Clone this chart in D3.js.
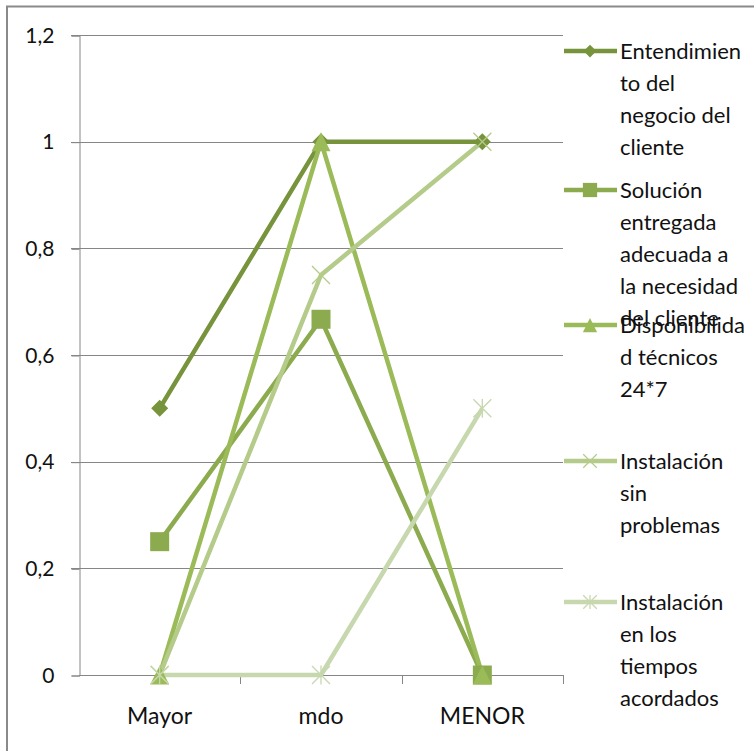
<!DOCTYPE html>
<html>
<head>
<meta charset="utf-8">
<script src="https://cdn.jsdelivr.net/npm/d3@7"></script>
<style>
  html, body { margin: 0; padding: 0; background: #fff; }
  svg { display: block; }
  text { font-family: Lato, "Open Sans", sans-serif; fill: #111; }
</style>
</head>
<body>
<svg id="chart" width="754" height="751"></svg>
<script>
// Categories on the horizontal axis
const categories = ["Mayor", "mdo", "MENOR"];

// Series values, one array per series
const entendimiento = [0.5, 1, 1];
const solucion = [0.25, 0.667, 0];
const disponibilidad = [0, 1, 0];
const instalacionSinProblemas = [0, 0.75, 1];
const instalacionTiempos = [0, 0, 0.5];

// Legend labels, wrapped as shown in the legend box
const seriesNames = [
  ["Entendimien", "to del", "negocio del", "cliente"],
  ["Solución", "entregada", "adecuada a", "la necesidad", "del cliente"],
  ["Disponibilida", "d técnicos", "24*7"],
  ["Instalación", "sin", "problemas"],
  ["Instalación", "en los", "tiempos", "acordados"]
];

// Value axis ticks
const yTicks = [0, 0.2, 0.4, 0.6, 0.8, 1, 1.2];
const yTickLabels = ["0", "0,2", "0,4", "0,6", "0,8", "1", "1,2"];

const seriesValues = [entendimiento, solucion, disponibilidad, instalacionSinProblemas, instalacionTiempos];
const colors = ["#77933c", "#8cab4e", "#9bbb59", "#b4cb8a", "#c7d7ae"];
const markers = ["diamond", "square", "triangle", "x", "star"];

const svg = d3.select("#chart");

// chart frame
svg.append("path")
  .attr("d", "M7,760 V6.5 H760")
  .attr("fill", "none")
  .attr("stroke", "#8a8a8a")
  .attr("stroke-width", 2);

const plot = { left: 79, right: 563, top: 35, bottom: 675 };

const x = d3.scaleBand().domain(categories).range([plot.left, plot.right]).padding(0);
const y = d3.scaleLinear().domain([0, 1.2]).range([plot.bottom, plot.top]);
const cx = c => x(c) + x.bandwidth() / 2;

// horizontal gridlines
svg.append("g").selectAll("line").data(yTicks.filter(t => t > 0)).join("line")
  .attr("x1", plot.left - 8).attr("x2", plot.right)
  .attr("y1", d => Math.round(y(d)) + 0.5).attr("y2", d => Math.round(y(d)) + 0.5)
  .attr("stroke", "#868686").attr("stroke-width", 1);

// value axis
const yAxis = d3.axisLeft(y).tickValues(yTicks).tickSize(8).tickPadding(17)
  .tickFormat((d, i) => yTickLabels[i]);
const yg = svg.append("g").attr("transform", `translate(${plot.left + 0.5},0.5)`).call(yAxis);
yg.select(".domain").attr("stroke", "#868686");
yg.selectAll(".tick line").attr("stroke", "#868686");
yg.selectAll(".tick text").attr("font-size", 21).attr("fill", "#111")
  .attr("font-family", "Lato, 'Open Sans', sans-serif");

// category axis with tick marks between categories
svg.append("line")
  .attr("x1", plot.left).attr("x2", plot.right)
  .attr("y1", plot.bottom + 0.5).attr("y2", plot.bottom + 0.5)
  .attr("stroke", "#868686");
const bounds = categories.map(c => x(c)).concat([plot.right]);
svg.append("g").selectAll("line").data(bounds.slice(1)).join("line")
  .attr("x1", d => Math.round(d) + 0.5).attr("x2", d => Math.round(d) + 0.5)
  .attr("y1", plot.bottom).attr("y2", plot.bottom + 9)
  .attr("stroke", "#868686");
svg.append("g").selectAll("text").data(categories).join("text")
  .attr("x", d => cx(d)).attr("y", plot.bottom + 49)
  .attr("text-anchor", "middle").attr("font-size", 23)
  .text(d => d);

// marker drawing
function drawMarker(g, type, px, py, color, scale) {
  const s = scale || 1;
  if (type === "diamond") {
    const r = 8.5 * s;
    g.append("path").attr("d", `M${px},${py - r}L${px + r},${py}L${px},${py + r}L${px - r},${py}Z`)
      .attr("fill", color);
  } else if (type === "square") {
    const h = 9.5 * s;
    g.append("rect").attr("x", px - h).attr("y", py - h).attr("width", 2 * h).attr("height", 2 * h)
      .attr("fill", color);
  } else if (type === "triangle") {
    const w = 9.5 * s, t = 9.5 * s;
    g.append("path").attr("d", `M${px},${py - t}L${px + w},${py + t}L${px - w},${py + t}Z`)
      .attr("fill", color);
  } else if (type === "x" || type === "star") {
    const r = 9 * s;
    const p = `M${px - r},${py - r}L${px + r},${py + r}M${px - r},${py + r}L${px + r},${py - r}` +
      (type === "star" ? `M${px},${py - r * 1.05}L${px},${py + r * 1.05}` : "");
    g.append("path").attr("d", p).attr("stroke", color).attr("stroke-width", 1.3).attr("fill", "none");
  }
}

const line = d3.line().x((d, i) => cx(categories[i])).y(d => y(d));

// series lines first, markers on top
const lines = svg.append("g");
seriesValues.forEach((vals, k) => {
  lines.append("path").datum(vals).attr("d", line)
    .attr("fill", "none").attr("stroke", colors[k]).attr("stroke-width", 4.5)
    .attr("stroke-linejoin", "round");
});
const marks = svg.append("g");
seriesValues.forEach((vals, k) => {
  vals.forEach((v, i) => drawMarker(marks, markers[k], cx(categories[i]), y(v), colors[k], 1));
});

// legend
const legendY = [51, 190, 325, 461, 602];
const legend = svg.append("g");
seriesNames.forEach((lines, k) => {
  const ly = legendY[k];
  legend.append("line").attr("x1", 564).attr("x2", 617).attr("y1", ly).attr("y2", ly)
    .attr("stroke", colors[k]).attr("stroke-width", 4.5);
  drawMarker(legend, markers[k], 590, ly, colors[k], 0.75);
  lines.forEach((t, j) => {
    legend.append("text").attr("x", 620).attr("y", ly + j * 32 + 8)
      .attr("font-size", 22).text(t);
  });
});
</script>
</body>
</html>
